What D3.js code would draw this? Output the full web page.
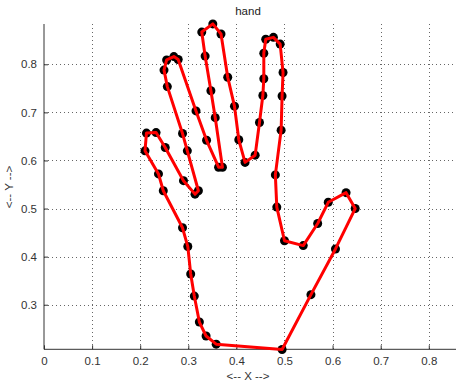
<!DOCTYPE html>
<html>
<head>
<meta charset="utf-8">
<script src="https://cdn.jsdelivr.net/npm/d3@7"></script>
<style>
  body { margin: 0; background: #fff; }
  text { font-family: "Liberation Sans", Arial, sans-serif; }
</style>
</head>
<body>
<div id="chart"></div>
<script>
// outline of the hand, traced counter-clockwise from the wrist
var handX = [0.495, 0.555, 0.606, 0.647, 0.628, 0.591, 0.569, 0.539, 0.500, 0.484,
  0.481, 0.493, 0.495, 0.497, 0.491, 0.477, 0.461, 0.457, 0.457, 0.455,
  0.448, 0.439, 0.418, 0.405, 0.396, 0.382, 0.368, 0.351, 0.328, 0.335,
  0.347, 0.356, 0.371, 0.363, 0.338, 0.316, 0.279, 0.270, 0.255, 0.2495,
  0.2564, 0.288, 0.298, 0.321, 0.314, 0.290, 0.252, 0.233, 0.213, 0.210,
  0.238, 0.248, 0.288, 0.299, 0.305, 0.3125, 0.323, 0.337, 0.358]
var handY = [0.207, 0.321, 0.416, 0.500, 0.533, 0.513, 0.469, 0.423, 0.433, 0.503,
  0.570, 0.663, 0.734, 0.783, 0.842, 0.856, 0.852, 0.823, 0.770, 0.735,
  0.679, 0.611, 0.596, 0.643, 0.713, 0.773, 0.863, 0.884, 0.867, 0.817,
  0.745, 0.689, 0.586, 0.586, 0.642, 0.703, 0.810, 0.816, 0.809, 0.788,
  0.7536, 0.656, 0.620, 0.537, 0.530, 0.558, 0.627, 0.658, 0.657, 0.620,
  0.572, 0.537, 0.460, 0.421, 0.364, 0.318, 0.264, 0.235, 0.218]

var xTicks = [0, 0.1, 0.2, 0.3, 0.4, 0.5, 0.6, 0.7, 0.8]
var yTicks = [0.3, 0.4, 0.5, 0.6, 0.7, 0.8]

var width = 456
var height = 382
var plotLeft = 44, plotRight = 455, plotTop = 24, plotBottom = 349.3

var data = handX.map(function(d, i) { return {x: d, y: handY[i]} })

var x = d3.scaleLinear().domain([0, 0.8545]).range([plotLeft, plotRight])
var y = d3.scaleLinear().domain([0.2073, 0.8838]).range([plotBottom, plotTop])

var svg = d3.select("#chart")
  .append("svg")
    .attr("width", width)
    .attr("height", height)

// dotted grid
svg.append("g")
  .selectAll("line")
  .data(xTicks.slice(1))
  .enter()
  .append("line")
    .attr("x1", d => Math.round(x(d)) + 0.5)
    .attr("x2", d => Math.round(x(d)) + 0.5)
    .attr("y1", plotTop)
    .attr("y2", plotBottom)
    .attr("stroke", "#666")
    .attr("stroke-dasharray", "1,3")

svg.append("g")
  .selectAll("line")
  .data(yTicks)
  .enter()
  .append("line")
    .attr("x1", plotLeft)
    .attr("x2", width)
    .attr("y1", d => Math.round(y(d)) + 0.5)
    .attr("y2", d => Math.round(y(d)) + 0.5)
    .attr("stroke", "#666")
    .attr("stroke-dasharray", "1,3")

// axes (ticks inward, MATLAB style)
var xAxis = svg.append("g")
  .attr("transform", "translate(0," + plotBottom + ")")
  .call(d3.axisBottom(x).tickValues(xTicks).tickSize(-4).tickPadding(8)
    .tickFormat(d => d === 0 ? "0" : d3.format(".1f")(d)))
var yAxis = svg.append("g")
  .attr("transform", "translate(" + plotLeft + ",0)")
  .call(d3.axisLeft(y).tickValues(yTicks).tickSize(-4).tickPadding(7)
    .tickFormat(d3.format(".1f")))

xAxis.select(".domain").remove()
yAxis.select(".domain").remove()
svg.selectAll(".tick line").attr("stroke", "#333")
svg.selectAll(".tick text").attr("fill", "#333").style("font-size", "11.5px")
  .style("font-family", "Liberation Sans, Arial, sans-serif")

svg.append("line")
  .attr("x1", plotLeft).attr("x2", width)
  .attr("y1", plotBottom).attr("y2", plotBottom)
  .attr("stroke", "#333")
svg.append("line")
  .attr("x1", plotLeft).attr("x2", plotLeft)
  .attr("y1", plotTop).attr("y2", plotBottom)
  .attr("stroke", "#333")

// points
svg.append("g")
  .selectAll("circle")
  .data(data)
  .enter()
  .append("circle")
    .attr("cx", d => x(d.x))
    .attr("cy", d => y(d.y))
    .attr("r", 4.5)
    .attr("fill", "#000")

// outline
var line = d3.line()
  .x(d => x(d.x))
  .y(d => y(d.y))
  .curve(d3.curveLinearClosed)

svg.append("path")
  .datum(data)
  .attr("d", line)
  .attr("fill", "none")
  .attr("stroke", "#ff0000")
  .attr("stroke-width", 3)
  .attr("stroke-linejoin", "round")

// labels
svg.append("text")
  .attr("x", 248).attr("y", 15)
  .attr("text-anchor", "middle")
  .style("font-size", "11.5px")
  .attr("fill", "#222")
  .text("hand")

svg.append("text")
  .attr("x", 248).attr("y", 380)
  .attr("text-anchor", "middle")
  .style("font-size", "11.5px")
  .attr("fill", "#333")
  .text("<-- X -->")

svg.append("text")
  .attr("transform", "translate(13,187) rotate(-90)")
  .attr("text-anchor", "middle")
  .style("font-size", "11.5px")
  .attr("fill", "#333")
  .text("<-- Y -->")
</script>
</body>
</html>
